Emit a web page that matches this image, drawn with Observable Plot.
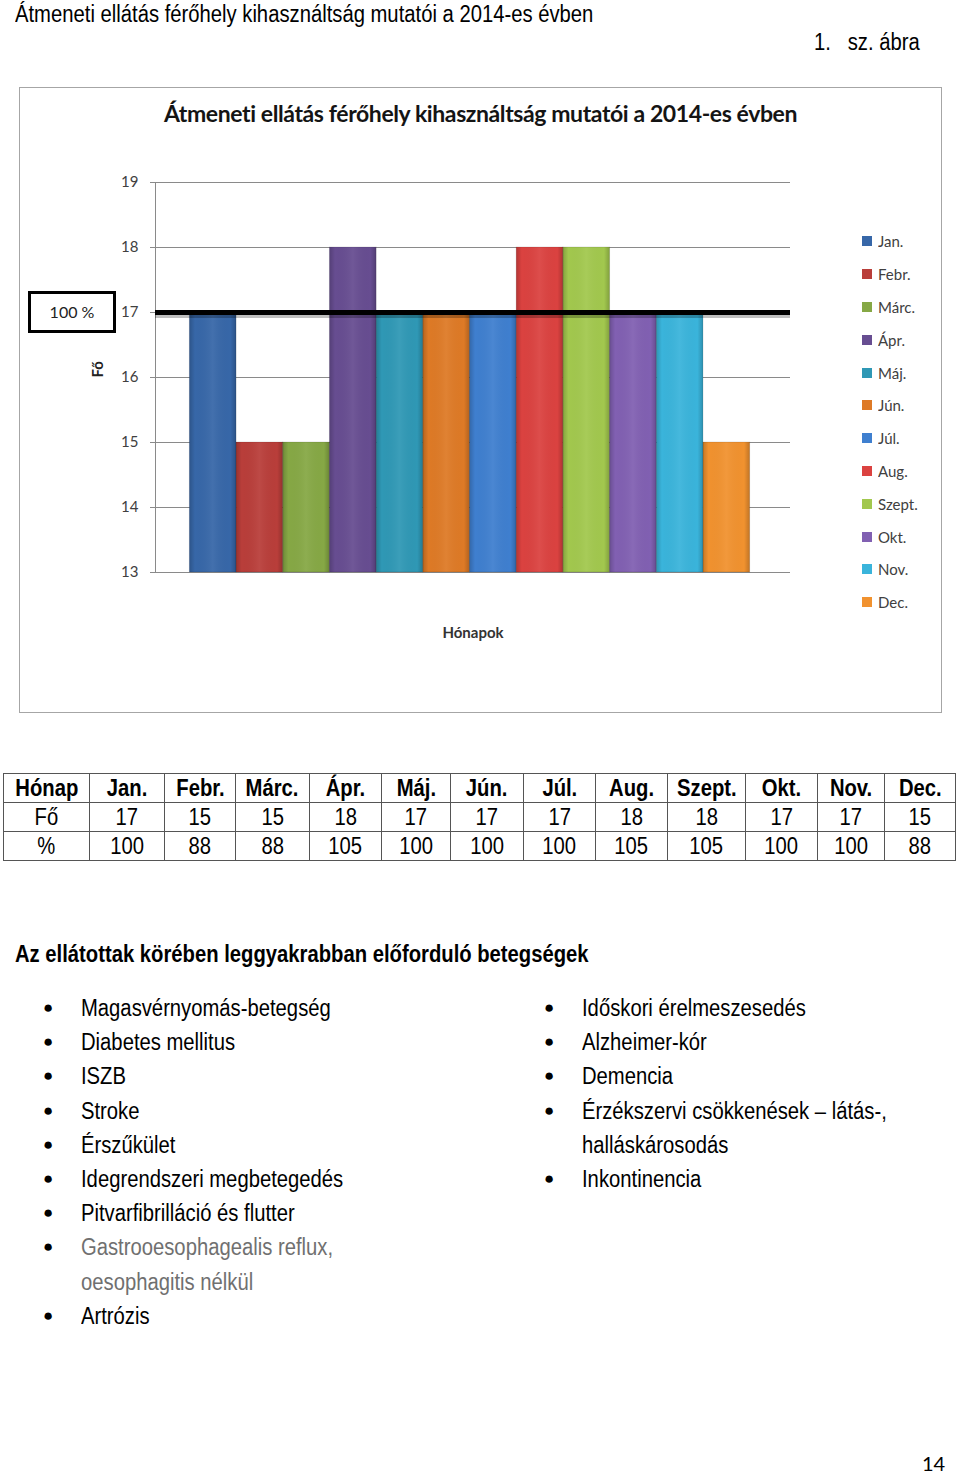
<!DOCTYPE html>
<html>
<head>
<meta charset="utf-8">
<script src="https://cdn.jsdelivr.net/npm/d3@7"></script>
<script src="https://cdn.jsdelivr.net/npm/@observablehq/plot@0.6"></script>
<style>
  html, body { margin: 0; padding: 0; background: #fff; }
  body { width: 960px; height: 1475px; position: relative; overflow: hidden;
         font-family: "Liberation Sans", Arial, sans-serif; color: #000; }
  .abs { position: absolute; white-space: pre; }
  .nar { display: inline-block; transform: scaleX(0.88); transform-origin: 0 50%; }
  .narc { display: inline-block; transform: scaleX(0.88); transform-origin: 50% 50%; white-space: nowrap; }
  #frame { position: absolute; left: 19px; top: 87px; width: 921px; height: 624px; border: 1.5px solid #a6a6a6; background: #fff; }
  #chart { position: absolute; left: 20px; top: 88px; }
  #ctitle { position: absolute; left: 20px; top: 99px; width: 921px; text-align: center;
            font-family: Lato, "Open Sans", sans-serif; font-weight: bold; font-size: 23px; color: #141414; letter-spacing: -0.4px; }
  #box100 { position: absolute; left: 28px; width: 82px; height: 36px; border: 3.5px solid #000; background: #fff;
            font-family: Lato, "Open Sans", sans-serif; font-size: 16px; text-align: center; line-height: 36px; color: #222; }
  #legend { position: absolute; left: 862px; top: 225px; }
  #legend .lg-swatches, #legend .lg-swatches-columns { display: block !important; columns: auto !important; margin: 0 !important; }
  #legend .lg-swatch { height: 32.8px; display: flex; align-items: center; margin: 0 !important; padding: 0 !important;
                       font-family: Lato, "Open Sans", sans-serif; font-size: 15px; color: #404040; }
  #legend .lg-swatch svg { margin-right: 6px; }
  table.data { position: absolute; left: 3px; top: 773px; border-collapse: collapse; table-layout: fixed; }
  table.data td { border: 1.3px solid #555; text-align: center; font-size: 23px; height: 28px; padding: 0; line-height: 28px; overflow: hidden; }
  table.data tr.head td { font-weight: bold; }
  .item { font-size: 23px; line-height: 34px; }
  .bullet { font-size: 17px; line-height: 34px; }
</style>
</head>
<body>
<div id="root"></div>
<script>
// ---- data ----
const months = ["Jan.", "Febr.", "Márc.", "Ápr.", "Máj.", "Jún.", "Júl.", "Aug.", "Szept.", "Okt.", "Nov.", "Dec."];
const persons = [17, 15, 15, 18, 17, 17, 17, 18, 18, 17, 17, 15];
const percents = [100, 88, 88, 105, 100, 100, 100, 105, 105, 100, 100, 88];
const barColors = ["#3767a8", "#b93e3a", "#86a845", "#674d91", "#2f98b5", "#de7a26",
                   "#3f7fcf", "#db4240", "#a2c84e", "#8160b2", "#3ab4db", "#f1922f"];
const yDomain = [13, 19];
const yTicks = [13, 14, 15, 16, 17, 18, 19];
const refValue = 17;
const refLabel = "100 %";
const pageTitle = "Átmeneti ellátás férőhely kihasználtság mutatói a 2014-es évben";
const figLabel = "1.   sz. ábra";
const chartTitle = "Átmeneti ellátás férőhely kihasználtság mutatói a 2014-es évben";
const yLabel = "Fő";
const xLabel = "Hónapok";
const tableRowLabels = ["Hónap", "Fő", "%"];
const heading = "Az ellátottak körében leggyakrabban előforduló betegségek";
const leftItems = [
  ["Magasvérnyomás-betegség"], ["Diabetes mellitus"], ["ISZB"], ["Stroke"], ["Érszűkület"],
  ["Idegrendszeri megbetegedés"], ["Pitvarfibrilláció és flutter"],
  ["Gastrooesophagealis reflux,", "oesophagitis nélkül"], ["Artrózis"]
];
const leftGray = [false, false, false, false, false, false, false, true, false];
const rightItems = [
  ["Időskori érelmeszesedés"], ["Alzheimer-kór"], ["Demencia"],
  ["Érzékszervi csökkenések – látás-,", "halláskárosodás"], ["Inkontinencia"]
];
const pageNumber = "14";

const data = months.map((m, i) => ({month: m, value: persons[i], pct: percents[i]}));

const root = document.getElementById("root");
function addText(txt, css, cls, narrow = true) {
  const d = document.createElement("div");
  d.className = "abs " + (cls || "");
  Object.assign(d.style, css);
  if (narrow) {
    const s = document.createElement("span"); s.className = "nar"; s.textContent = txt; d.appendChild(s);
  } else d.textContent = txt;
  root.appendChild(d);
  return d;
}

// page header
addText(pageTitle, {left: "15px", top: "0px", fontSize: "23px", lineHeight: "28px"});
addText(figLabel, {left: "814px", top: "28px", fontSize: "23px", lineHeight: "28px"});

// chart frame
const frame = document.createElement("div"); frame.id = "frame"; root.appendChild(frame);

const plot = Plot.plot({
  width: 921,
  height: 624,
  marginLeft: 135,
  marginRight: 151,
  marginTop: 94,
  marginBottom: 140,
  style: {fontFamily: "Lato, 'Open Sans', sans-serif", background: "transparent", overflow: "visible"},
  x: {domain: months, paddingInner: 0, paddingOuter: 0.8, align: 0.46, round: false, axis: null},
  y: {domain: yDomain, axis: null},
  color: {domain: months, range: barColors},
  marks: [
    Plot.gridY(yTicks, {stroke: "#8a8a8a", strokeOpacity: 1, strokeWidth: 1}),
    Plot.axisY(yTicks, {tickSize: 5, tickPadding: 0, text: null, stroke: "#8a8a8a", strokeWidth: 1, label: null}),
    Plot.frame({anchor: "left", stroke: "#8a8a8a"}),
    Plot.axisY(yTicks, {tickSize: 0, tickPadding: 17, fontSize: 15, fill: "#404040", label: null, tickFormat: d => String(d)}),
    Plot.barY(data, {x: "month", y1: yDomain[0], y2: "value", fill: "month"}),
    Plot.barY(data, {x: "month", y1: yDomain[0], y2: "value", fill: "url(#shade)", stroke: "#000", strokeOpacity: 0.12, strokeWidth: 1}),
    Plot.ruleY([refValue], {stroke: "#000", strokeOpacity: 0.25, strokeWidth: 5, dy: 3}),
    Plot.ruleY([refValue], {stroke: "#000", strokeWidth: 5}),
    Plot.text([yLabel], {frameAnchor: "left", dx: -57, rotate: -90, fontWeight: "bold", fontSize: 15, fill: "#222"}),
    Plot.text([xLabel], {frameAnchor: "bottom", dy: 65, fontWeight: "bold", fontSize: 15, fill: "#333"})
  ]
});
// gradient used by the shading overlay of the bars
const ns = "http://www.w3.org/2000/svg";
const defs = document.createElementNS(ns, "defs");
defs.innerHTML = `<linearGradient id="shade" x1="0" x2="1" y1="0" y2="0">
  <stop offset="0" stop-color="#000" stop-opacity="0.18"/>
  <stop offset="0.12" stop-color="#000" stop-opacity="0.0"/>
  <stop offset="0.5" stop-color="#fff" stop-opacity="0.06"/>
  <stop offset="0.88" stop-color="#000" stop-opacity="0.0"/>
  <stop offset="1" stop-color="#000" stop-opacity="0.2"/>
</linearGradient>`;
plot.insertBefore(defs, plot.firstChild);
plot.id = "chart";
root.appendChild(plot);

// chart title
const ct = document.createElement("div"); ct.id = "ctitle"; ct.textContent = chartTitle; root.appendChild(ct);

// 100% box tied to y scale
const yPix = 88 + plot.scale("y").apply(refValue);
const box = document.createElement("div"); box.id = "box100"; box.textContent = refLabel;
box.style.top = (yPix - 21.5) + "px";
root.appendChild(box);

// legend
const legend = Plot.legend({color: {domain: months, range: barColors}, legend: "swatches", columns: 1, swatchSize: 10, className: "lg"});
const lgWrap = document.createElement("div"); lgWrap.id = "legend"; lgWrap.appendChild(legend);
root.appendChild(lgWrap);

// table
const colWidths = [86, 75, 71, 74, 72, 69, 73, 72, 72, 78, 72, 67, 71];
const table = document.createElement("table"); table.className = "data";
const cg = document.createElement("colgroup");
colWidths.forEach(w => { const c = document.createElement("col"); c.style.width = w + "px"; cg.appendChild(c); });
table.appendChild(cg);
const rows = [[tableRowLabels[0], ...months], [tableRowLabels[1], ...persons], [tableRowLabels[2], ...percents]];
rows.forEach((r, ri) => {
  const tr = document.createElement("tr"); if (ri === 0) tr.className = "head";
  r.forEach(v => {
    const td = document.createElement("td");
    const s = document.createElement("span"); s.className = "narc"; s.textContent = v; td.appendChild(s);
    tr.appendChild(td);
  });
  table.appendChild(tr);
});
root.appendChild(table);

// heading
addText(heading, {left: "15px", top: "940px", fontSize: "23px", fontWeight: "bold", textDecoration: "underline", lineHeight: "28px"});

// list
function addList(items, grays, bulletX, textX, topY) {
  let line = 0;
  items.forEach((lines, i) => {
    addText("●", {left: bulletX + "px", top: (topY + line * 34.2) + "px"}, "bullet", false);
    lines.forEach(l => {
      addText(l, {left: textX + "px", top: (topY + line * 34.2) + "px", color: grays && grays[i] ? "#707070" : "#000"}, "item");
      line++;
    });
  });
}
addList(leftItems, leftGray, 43, 81, 991);
addList(rightItems, null, 544, 582, 991);

// page number
addText(pageNumber, {left: "922px", top: "1452px", fontSize: "20px", lineHeight: "22px", fontFamily: "Lato, 'Open Sans', sans-serif"}, "", false);
</script>
</body>
</html>
